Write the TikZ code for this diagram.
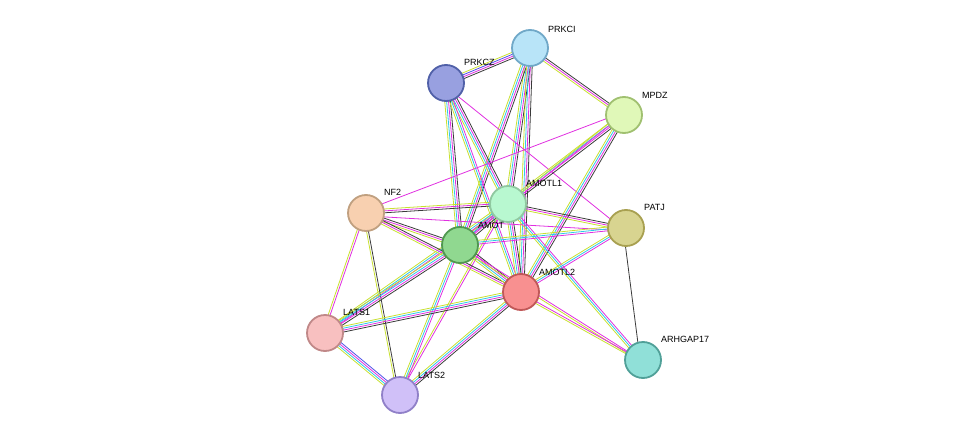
\documentclass[tikz,border=0pt]{standalone}
\usepackage{fontspec}
\setmainfont{Liberation Sans}
\usetikzlibrary{calc}
\definecolor{cK}{HTML}{3A3A3A}
\definecolor{cM}{HTML}{E030E0}
\definecolor{cY}{HTML}{C8E030}
\definecolor{cC}{HTML}{30C8E8}
\definecolor{cB}{HTML}{5050E8}
\definecolor{fPRKCI}{HTML}{B8E4F8}\definecolor{dPRKCI}{HTML}{70A8C8}
\definecolor{fPRKCZ}{HTML}{98A0E0}\definecolor{dPRKCZ}{HTML}{5060A8}
\definecolor{fMPDZ}{HTML}{E0F8B8}\definecolor{dMPDZ}{HTML}{A0C070}
\definecolor{fAMOTL1}{HTML}{B8F8D0}\definecolor{dAMOTL1}{HTML}{90C8A0}
\definecolor{fNF2}{HTML}{F8D0B0}\definecolor{dNF2}{HTML}{C0A080}
\definecolor{fPATJ}{HTML}{D8D490}\definecolor{dPATJ}{HTML}{A8A050}
\definecolor{fAMOT}{HTML}{90D890}\definecolor{dAMOT}{HTML}{509850}
\definecolor{fAMOTL2}{HTML}{F89090}\definecolor{dAMOTL2}{HTML}{C05858}
\definecolor{fLATS1}{HTML}{F8C0C0}\definecolor{dLATS1}{HTML}{C08888}
\definecolor{fARH}{HTML}{90E0D8}\definecolor{dARH}{HTML}{50A098}
\definecolor{fLATS2}{HTML}{D0C0F8}\definecolor{dLATS2}{HTML}{9080C8}
\tikzset{prot/.style={circle,minimum size=36pt,inner sep=0pt,line width=1.8pt},
 lbl/.style={font=\fontsize{9}{10}\selectfont,anchor=south west,inner sep=1pt}}
\newcommand{\E}[3]{\foreach \c [count=\i] in {#3}{\pgfmathsetmacro\o{(\i-2.5)*1.9}
 \draw[\c,line width=0.8pt] ($(#1)!\o pt!90:(#2)$) -- ($(#2)!\o pt!-90:(#1)$);}}
\begin{document}
\begin{tikzpicture}[x=1pt,y=-1pt]
\useasboundingbox (0,0) rectangle (976,441);
\coordinate (PRKCI) at (530,48);
\coordinate (PRKCZ) at (446,83);
\coordinate (MPDZ) at (624,115);
\coordinate (AMOTL1) at (508,204);
\coordinate (NF2) at (366,213);
\coordinate (PATJ) at (626,228);
\coordinate (AMOT) at (460,245);
\coordinate (AMOTL2) at (521,292);
\coordinate (LATS1) at (325,333);
\coordinate (ARHGAP17) at (643,360);
\coordinate (LATS2) at (400,395);
\E{PRKCI}{PRKCZ}{cY,cB,cM,cK}
\E{PRKCI}{MPDZ}{cY,cM,cK}
\E{PRKCI}{AMOTL1}{cY,cC,cM,cK}
\E{PRKCI}{AMOT}{cY,cC,cM,cK}
\E{PRKCI}{AMOTL2}{cY,cC,cM,cK}
\E{PRKCZ}{AMOTL1}{cY,cC,cM,cK}
\E{PRKCZ}{AMOT}{cY,cC,cM,cK}
\E{PRKCZ}{AMOTL2}{cY,cC,cM}
\E{PRKCZ}{PATJ}{cM}
\E{MPDZ}{NF2}{cM}
\E{MPDZ}{AMOTL1}{cY,cC,cM,cK}
\E{MPDZ}{AMOT}{cY,cM}
\E{MPDZ}{AMOTL2}{cY,cC,cM,cK}
\E{AMOTL1}{NF2}{cY,cM,cK}
\E{AMOTL1}{PATJ}{cY,cM,cK}
\E{AMOTL1}{AMOT}{cY,cC,cM,cK}
\E{AMOTL1}{AMOTL2}{cY,cC,cM,cK}
\E{AMOTL1}{LATS1}{cY,cC,cM}
\E{AMOTL1}{LATS2}{cY,cM}
\E{AMOTL1}{ARHGAP17}{cY,cC,cM}
\E{NF2}{AMOT}{cY,cM,cK}
\E{NF2}{AMOTL2}{cY,cM,cK}
\E{NF2}{LATS1}{cY,cM}
\E{NF2}{LATS2}{cY,cK}
\E{NF2}{PATJ}{cM}
\E{PATJ}{AMOT}{cY,cC,cM}
\E{PATJ}{AMOTL2}{cY,cC,cM}
\E{PATJ}{ARHGAP17}{cK}
\E{AMOT}{AMOTL2}{cY,cC,cM,cK}
\E{AMOT}{LATS1}{cY,cC,cM,cK}
\E{AMOT}{LATS2}{cY,cC,cM}
\E{AMOT}{ARHGAP17}{cY,cM}
\E{AMOTL2}{LATS1}{cY,cC,cM,cK}
\E{AMOTL2}{LATS2}{cY,cC,cM,cK}
\E{AMOTL2}{ARHGAP17}{cY,cM}
\E{LATS1}{LATS2}{cY,cC,cM,cB}
\node[prot,fill=fPRKCI,draw=dPRKCI] (nPRKCI) at (PRKCI) {};
\node[prot,fill=fPRKCZ,draw=dPRKCZ] (nPRKCZ) at (PRKCZ) {};
\node[prot,fill=fMPDZ,draw=dMPDZ] (nMPDZ) at (MPDZ) {};
\node[prot,fill=fAMOTL1,draw=dAMOTL1] (nAMOTL1) at (AMOTL1) {};
\node[prot,fill=fNF2,draw=dNF2] (nNF2) at (NF2) {};
\node[prot,fill=fPATJ,draw=dPATJ] (nPATJ) at (PATJ) {};
\node[prot,fill=fAMOT,draw=dAMOT] (nAMOT) at (AMOT) {};
\node[prot,fill=fAMOTL2,draw=dAMOTL2] (nAMOTL2) at (AMOTL2) {};
\node[prot,fill=fLATS1,draw=dLATS1] (nLATS1) at (LATS1) {};
\node[prot,fill=fARH,draw=dARH] (nARHGAP17) at (ARHGAP17) {};
\node[prot,fill=fLATS2,draw=dLATS2] (nLATS2) at (LATS2) {};
\node[lbl] at (547,34) {PRKCI};
\node[lbl] at (463,67) {PRKCZ};
\node[lbl] at (641,100) {MPDZ};
\node[lbl] at (525,188) {AMOTL1};
\node[lbl] at (383,197) {NF2};
\node[lbl] at (643,212) {PATJ};
\node[lbl] at (477,230) {AMOT};
\node[lbl] at (538,277) {AMOTL2};
\node[lbl] at (342,317) {LATS1};
\node[lbl] at (660,344) {ARHGAP17};
\node[lbl] at (417,380) {LATS2};
\end{tikzpicture}
\end{document}
